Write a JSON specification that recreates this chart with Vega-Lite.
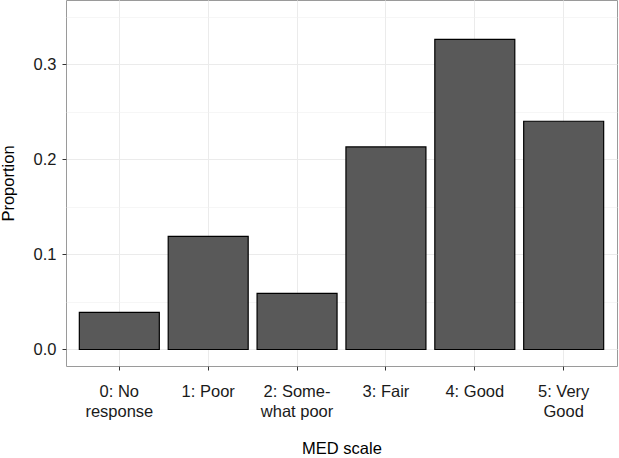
{
  "$schema": "https://vega.github.io/schema/vega-lite/v6.json",
  "width": 551,
  "height": 366,
  "autosize": "none",
  "padding": {"left": 66, "top": 0, "right": 2, "bottom": 92},
  "background": "white",
  "config": {
    "view": {"stroke": "#9a9a9a", "strokeWidth": 1},
    "font": "Liberation Sans",
    "axis": {"labelFont": "Liberation Sans", "titleFont": "Liberation Sans"}
  },
  "data": {
    "values": [
      {"category": "0: No\nresponse", "order": 0, "proportion": 0.039},
      {"category": "1: Poor", "order": 1, "proportion": 0.119},
      {"category": "2: Some-\nwhat poor", "order": 2, "proportion": 0.059},
      {"category": "3: Fair", "order": 3, "proportion": 0.213},
      {"category": "4: Good", "order": 4, "proportion": 0.326},
      {"category": "5: Very\nGood", "order": 5, "proportion": 0.240}
    ]
  },
  "resolve": {"axis": {"y": "independent", "x": "independent"}},
  "layer": [
    {
      "mark": {"type": "bar", "opacity": 0},
      "encoding": {
        "x": {"field": "category", "type": "nominal", "sort": {"field": "order"},
              "scale": {"paddingInner": 0.1, "paddingOuter": 0.15},
              "axis": null},
        "y": {"field": "proportion", "type": "quantitative",
              "scale": {"domain": [-0.01735, 0.3675], "nice": false, "zero": false},
              "axis": {"orient": "left", "values": [0.05, 0.15, 0.25, 0.35], "grid": true,
                       "gridColor": "#F0F0F0", "gridWidth": 0.6, "labels": false, "ticks": false,
                       "domain": false, "title": null}}
      }
    },
    {
      "mark": {"type": "bar", "color": "#595959", "stroke": "#000000", "strokeWidth": 1.2},
      "encoding": {
        "x": {"field": "category", "type": "nominal", "sort": {"field": "order"},
              "scale": {"paddingInner": 0.1, "paddingOuter": 0.15},
              "axis": {"title": "MED scale", "labelAngle": 0, "labelExpr": "split(datum.label, '\\n')",
                       "labelFontSize": 16.5, "labelColor": "#1a1a1a", "labelPadding": 13,
                       "labelLineHeight": 20, "labelBaseline": "top",
                       "tickSize": 4, "tickColor": "#333333", "domain": false,
                       "grid": true, "gridColor": "#EBEBEB", "gridWidth": 1,
                       "titleFontSize": 16.5, "titleFontWeight": "normal", "titleColor": "#000000",
                       "titlePadding": 21}},
        "y": {"field": "proportion", "type": "quantitative",
              "scale": {"domain": [-0.01735, 0.3675], "nice": false, "zero": false},
              "axis": {"orient": "left", "values": [0, 0.1, 0.2, 0.3], "format": ".1f",
                       "grid": true, "gridColor": "#EBEBEB", "gridWidth": 1,
                       "tickSize": 4, "tickColor": "#333333", "domain": false,
                       "labelFontSize": 16.5, "labelColor": "#1a1a1a", "labelPadding": 6,
                       "title": "Proportion", "titleFontSize": 16.5, "titleFontWeight": "normal",
                       "titleColor": "#000000", "titlePadding": 17}}
      }
    }
  ]
}
